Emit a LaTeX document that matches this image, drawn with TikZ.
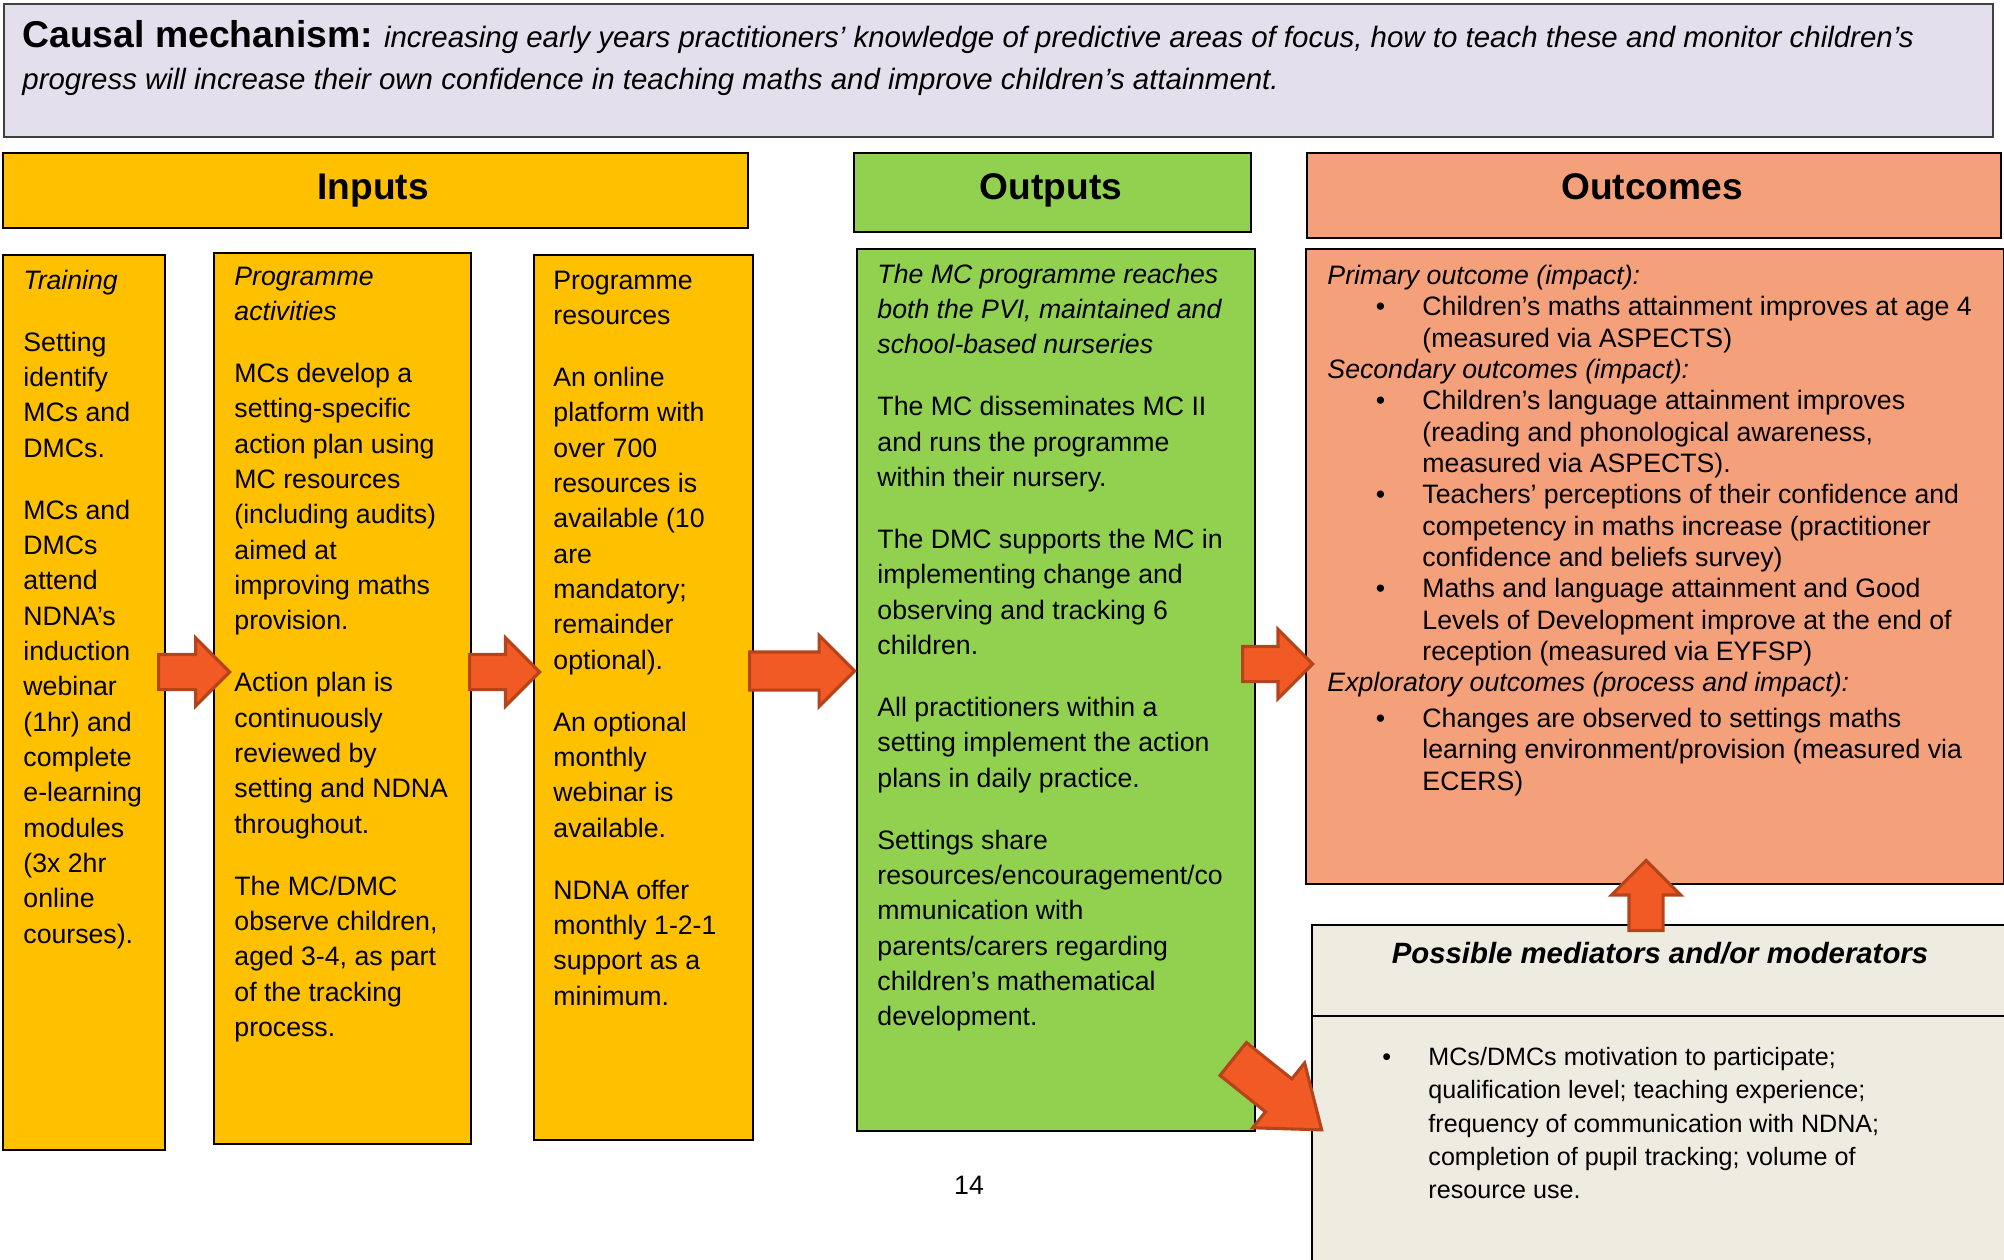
\documentclass[tikz,border=0pt]{standalone}
\usepackage{fontspec}
\setmainfont{Liberation Sans}
\usepackage{tikz}
\usetikzlibrary{shapes.arrows}
\definecolor{mechfill}{HTML}{E4DFEC}
\definecolor{inyellow}{HTML}{FFC000}
\definecolor{outgreen}{HTML}{92D050}
\definecolor{ocsalmon}{HTML}{F4A07B}
\definecolor{medfill}{HTML}{EEECE1}
\definecolor{arrowfill}{HTML}{F15A24}
\definecolor{arrowline}{HTML}{B5441B}
\newcommand{\obul}{\hspace*{21.75pt}\makebox[21pt][l]{\textbullet}}
\newcommand{\oind}{\hspace*{42.75pt}}
\newcommand{\mbul}{\makebox[20.7pt][l]{\textbullet}}
\newcommand{\mind}{\hspace*{20.7pt}}

\begin{document}
\begin{tikzpicture}[x=0.45pt, y=-0.45pt]
		\tikzstyle{panel}=[draw=black, line width=1pt, anchor=north west, inner sep=0pt]
		\tikzstyle{body}=[anchor=north west, inner sep=0pt, align=left, font=\fontsize{12}{15.9}\selectfont]
		\tikzstyle{head}=[font=\fontsize{16.7}{19}\selectfont\bfseries, text height=12pt, text depth=3.5pt]
		\tikzstyle{fatarrow}=[single arrow, fill=arrowfill, draw=arrowline, line width=1.4pt, inner xsep=0pt, anchor=tail, single arrow tip angle=90]

		\useasboundingbox (0,0) rectangle (2004,1259);

		% Draw banner
		\node[panel, draw=black!75, fill=mechfill, minimum width=895pt, minimum height=59.85pt] (mech) at (3,3) {};
		\node[body, font=\fontsize{13.25}{18.9}\selectfont] (mechtext) at (22,18) {\strut{\fontsize{16.8}{18.9}\selectfont\bfseries Causal mechanism:} \textit{increasing early years practitioners’ knowledge of predictive areas of focus, how to teach these and monitor children’s}\\ \textit{progress will increase their own confidence in teaching maths and improve children’s attainment.}};

		% Draw headings
		\node[panel, fill=inyellow, minimum width=335.25pt, minimum height=33.75pt] (inhead) at (2,152) {};
		\node[panel, fill=outgreen, minimum width=178.65pt, minimum height=35.55pt] (outhead) at (853,152) {};
		\node[panel, fill=ocsalmon, minimum width=312.3pt, minimum height=38.25pt] (ochead) at (1306,152) {};
		\node[head] (intitle) at (373,190) {Inputs};
		\node[head] (outtitle) at (1051,190) {Outputs};
		\node[head] (octitle) at (1652,190) {Outcomes};

		% Draw columns
		\node[panel, fill=inyellow, minimum width=72.9pt, minimum height=402.75pt] (training) at (2,254) {};
		\node[panel, fill=inyellow, minimum width=115.65pt, minimum height=400.95pt] (activities) at (213,252) {};
		\node[panel, fill=inyellow, minimum width=98.55pt, minimum height=398.25pt] (resources) at (533,254) {};
		\node[panel, fill=outgreen, minimum width=179.1pt, minimum height=396.9pt] (outputs) at (856,248) {};
		\node[panel, fill=ocsalmon, minimum width=314.1pt, minimum height=285.75pt] (outcomes) at (1305,248) {};
		\node[panel, fill=medfill, minimum width=315pt, minimum height=154pt] (mediators) at (1311,924) {};
		\coordinate (medsplit) at (1311,1016);
		\draw[line width=1pt] (medsplit) -- (mediators.east |- medsplit);

		% Draw texts
		\node[body] (traintext) at (23,264) {\strut\textit{Training}\\[12pt] Setting\\ identify\\ MCs and\\ DMCs.\\[12pt] MCs and\\ DMCs\\ attend\\ NDNA’s\\ induction\\ webinar\\ (1hr) and\\ complete\\ e-learning\\ modules\\ (3x 2hr\\ online\\ courses).};
		\node[body] (acttext) at (234,260) {\strut\textit{Programme}\\ \textit{activities}\\[12pt] MCs develop a\\ setting-specific\\ action plan using\\ MC resources\\ (including audits)\\ aimed at\\ improving maths\\ provision.\\[12pt] Action plan is\\ continuously\\ reviewed by\\ setting and NDNA\\ throughout.\\[12pt] The MC/DMC\\ observe children,\\ aged 3-4, as part\\ of the tracking\\ process.};
		\node[body] (restext) at (553,264) {\strut Programme\\ resources\\[12pt] An online\\ platform with\\ over 700\\ resources is\\ available (10\\ are\\ mandatory;\\ remainder\\ optional).\\[12pt] An optional\\ monthly\\ webinar is\\ available.\\[12pt] NDNA offer\\ monthly 1-2-1\\ support as a\\ minimum.};
		\node[body] (outtext) at (877,258) {\strut\textit{The MC programme reaches}\\ \textit{both the PVI, maintained and}\\ \textit{school-based nurseries}\\[12pt] The MC disseminates MC II\\ and runs the programme\\ within their nursery.\\[12pt] The DMC supports the MC in\\ implementing change and\\ observing and tracking 6\\ children.\\[12pt] All practitioners within a\\ setting implement the action\\ plans in daily practice.\\[12pt] Settings share\\ resources/encouragement/co\\ mmunication with\\ parents/carers regarding\\ children’s mathematical\\ development.};
		\node[body, font=\fontsize{12}{14.1}\selectfont] (octext) at (1327,262) {\strut\textit{Primary outcome (impact):}\\
			\obul Children’s maths attainment improves at age 4\\
			\oind (measured via ASPECTS)\\
			\textit{Secondary outcomes (impact):}\\
			\obul Children’s language attainment improves\\
			\oind (reading and phonological awareness,\\
			\oind measured via ASPECTS).\\
			\obul Teachers’ perceptions of their confidence and\\
			\oind competency in maths increase (practitioner\\
			\oind confidence and beliefs survey)\\
			\obul Maths and language attainment and Good\\
			\oind Levels of Development improve at the end of\\
			\oind reception (measured via EYFSP)\\
			\textit{Exploratory outcomes (process and impact):}\\[2pt]
			\obul Changes are observed to settings maths\\
			\oind learning environment/provision (measured via\\
			\oind ECERS)};
		\node[font=\fontsize{13.2}{15}\selectfont\bfseries\itshape] (medhead) at (1660,953) {Possible mediators and/or moderators};
		\node[body, font=\fontsize{11.3}{14.95}\selectfont] (medtext) at (1382,1042) {\strut\mbul MCs/DMCs motivation to participate;\\ \mind qualification level; teaching experience;\\ \mind frequency of communication with NDNA;\\ \mind completion of pupil tracking; volume of\\ \mind resource use.};
		\node[font=\fontsize{12}{14}\selectfont] (pagenum) at (969,1185) {14};

		% Draw arrows
		\node[fatarrow, minimum height=32pt, minimum width=29.25pt, inner ysep=7.2pt, single arrow head extend=7.425pt] (arr1) at (157,672) {};
		\node[fatarrow, minimum height=31.5pt, minimum width=29.25pt, inner ysep=7.2pt, single arrow head extend=7.425pt] (arr2) at (468,672) {};
		\node[fatarrow, minimum height=47.3pt, minimum width=30.6pt, inner ysep=7.875pt, single arrow head extend=7.425pt] (arr3) at (748,671) {};
		\node[fatarrow, minimum height=31.5pt, minimum width=29.7pt, inner ysep=7.2pt, single arrow head extend=7.65pt] (arr4) at (1241,664) {};
		\node[fatarrow, rotate=90, minimum height=31.5pt, minimum width=29.7pt, inner ysep=6.975pt, single arrow head extend=7.875pt] (arrup) at (1646,932) {};
		\node[fatarrow, rotate=-38.7, minimum height=51pt, minimum width=36pt, inner ysep=8.775pt, single arrow head extend=9.225pt, single arrow tip angle=74] (arrdiag) at (1232,1058) {};

		\end{tikzpicture}
\end{document}
